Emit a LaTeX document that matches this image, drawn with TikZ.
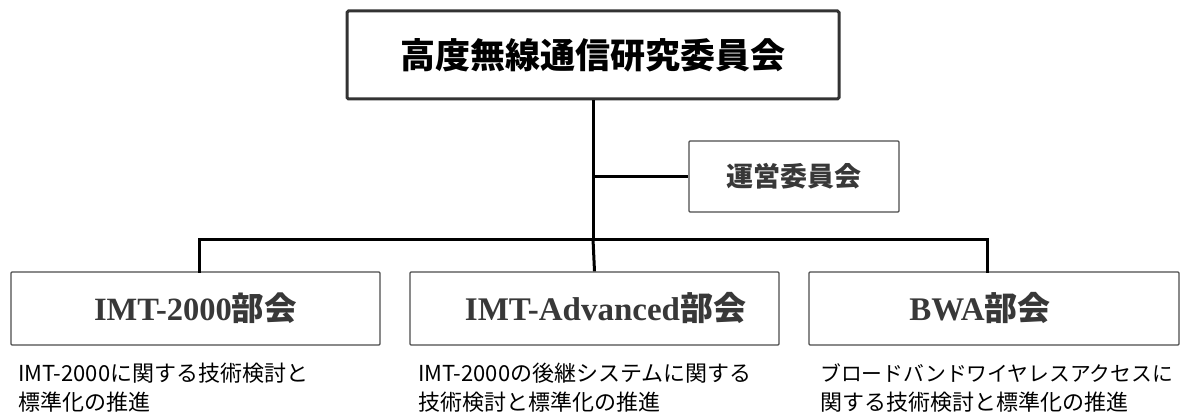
\documentclass[tikz,border=0pt]{standalone}
\usepackage{fontspec}
\setmainfont{Liberation Serif}
\newfontfamily\cjk{Noto Sans CJK JP}
\newfontfamily\lat{Liberation Serif}
\begin{document}
\begin{tikzpicture}[x=1pt,y=-1pt,
  conn/.style={line width=3pt,black},
  bigbox/.style={draw=black!80,line width=3pt,rounded corners=1.5pt,minimum width=492pt,minimum height=88pt,inner sep=0pt},
  smallbox/.style={draw=black!70,line width=1.3pt,rounded corners=1pt,minimum height=73pt,inner sep=0pt,text=black!78},
  desc/.style={anchor=north west,inner sep=0pt,align=left,font=\cjk\fontsize{22}{29}\selectfont}
]
\useasboundingbox (0,0) rectangle (1186,417);
\node[bigbox] (top) at (593,55) {\cjk\bfseries\fontsize{35}{40}\selectfont 高度無線通信研究委員会};
\node[smallbox,minimum width=210pt,minimum height=71pt] (unei) at (794,176.5) {\cjk\bfseries\fontsize{27}{30}\selectfont 運営委員会};
\node[smallbox,minimum width=369pt] (b1) at (195.5,308.5) {\fontsize{32.5}{36}\selectfont\bfseries{\lat IMT-2000}{\cjk 部会}};
\node[smallbox,minimum width=369pt] (b2) at (594.5,308.5) {\fontsize{33}{36}\selectfont\bfseries\hspace*{22pt}{\lat IMT-Advanced}{\cjk 部会}};
\node[smallbox,minimum width=370pt] (b3) at (994,308.5) {\fontsize{33}{36}\selectfont\bfseries{\lat BWA}{\cjk 部会}\hspace*{28pt}};
\coordinate (j) at (593,239);
\coordinate (k) at (593,176.5);
\coordinate (c1) at (199,239);
\coordinate (c3) at (987,239);
\draw[conn] (top.south) -- (j);
\draw[conn] (k) -- (unei.west);
\draw[conn,line cap=rect] (b1.north -| c1) -- (c1) -- (c3) -- (b3.north -| c3);
\draw[conn] (j) -- (b2.north);
\node[desc] (d1) at (18,363) {IMT-2000に関する技術検討と\\標準化の推進};
\node[desc] (d2) at (418,363) {IMT-2000の後継システムに関する\\技術検討と標準化の推進};
\node[desc] (d3) at (820,363) {{\fontsize{20.8}{29}\selectfont ブロードバンドワイヤレスアクセスに}\\関する技術検討と標準化の推進};
\end{tikzpicture}
\end{document}
